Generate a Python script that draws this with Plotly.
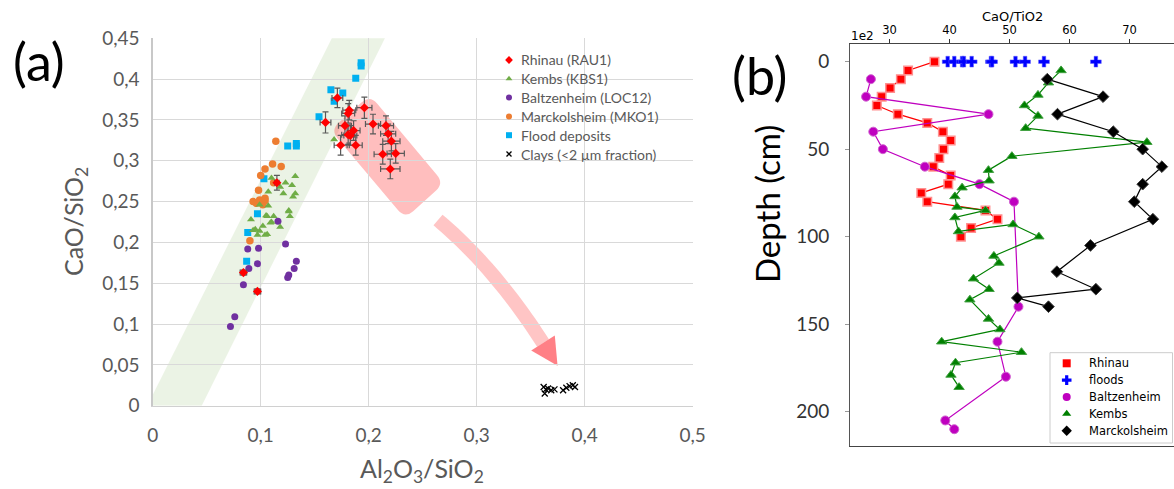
import numpy as np
import plotly.graph_objects as go

W, H = 1174, 489

# ---------------- Panel (a) data : CaO/SiO2 vs Al2O3/SiO2 ----------------
rhinau_x = [0.171, 0.160, 0.182, 0.181, 0.196, 0.178, 0.186, 0.181, 0.183, 0.204, 0.216,
            0.218, 0.221, 0.174, 0.188, 0.213, 0.225, 0.220, 0.115, 0.084, 0.097]
rhinau_y = [0.377, 0.347, 0.362, 0.358, 0.365, 0.343, 0.337, 0.332, 0.331, 0.345, 0.343,
            0.333, 0.324, 0.319, 0.319, 0.308, 0.309, 0.290, 0.273, 0.163, 0.140]
rhinau_ex = [0.005, 0.005, 0.006, 0.006, 0.007, 0.006, 0.006, 0.006, 0.006, 0.007, 0.007,
             0.007, 0.008, 0.006, 0.006, 0.008, 0.008, 0.009, 0.002, 0.003, 0.003]
rhinau_ey = [0.012, 0.013, 0.012, 0.012, 0.013, 0.012, 0.012, 0.012, 0.012, 0.012, 0.012,
             0.012, 0.012, 0.012, 0.012, 0.012, 0.012, 0.012, 0.009, 0.003, 0.003]

kembs_x = [0.132, 0.110, 0.123, 0.118, 0.129, 0.107, 0.121, 0.132, 0.130, 0.099, 0.107, 0.126,
           0.127, 0.106, 0.112, 0.091, 0.110, 0.118, 0.102, 0.095, 0.099, 0.104, 0.097, 0.168,
           0.105, 0.109, 0.093, 0.106, 0.126]
kembs_y = [0.281, 0.279, 0.273, 0.268, 0.270, 0.262, 0.260, 0.260, 0.256, 0.246, 0.245, 0.239,
           0.232, 0.232, 0.232, 0.228, 0.225, 0.219, 0.220, 0.216, 0.214, 0.209, 0.209, 0.326,
           0.233, 0.224, 0.215, 0.210, 0.238]

baltz_x = [0.123, 0.088, 0.098, 0.133, 0.131, 0.097, 0.089, 0.126, 0.125, 0.084, 0.076, 0.072, 0.116]
baltz_y = [0.198, 0.192, 0.193, 0.177, 0.168, 0.174, 0.168, 0.160, 0.157, 0.148, 0.109, 0.097, 0.226]

marck_x = [0.114, 0.111, 0.104, 0.119, 0.100, 0.112, 0.098, 0.093, 0.096, 0.099, 0.104, 0.102, 0.104, 0.090]
marck_y = [0.324, 0.296, 0.290, 0.293, 0.282, 0.273, 0.264, 0.250, 0.248, 0.252, 0.251, 0.246, 0.254, 0.202]

flood_x = [0.193, 0.193, 0.188, 0.165, 0.176, 0.168, 0.154, 0.125, 0.133, 0.133, 0.103, 0.097, 0.088, 0.087]
flood_y = [0.420, 0.416, 0.401, 0.387, 0.383, 0.373, 0.354, 0.318, 0.321, 0.318, 0.278, 0.235, 0.212, 0.177]

clay_x = [0.362, 0.364, 0.363, 0.366, 0.369, 0.372, 0.380, 0.383, 0.386, 0.389, 0.391]
clay_y = [0.023, 0.020, 0.015, 0.021, 0.019, 0.020, 0.019, 0.022, 0.024, 0.025, 0.023]

a_xticks = [0, 0.1, 0.2, 0.3, 0.4, 0.5]
a_xticktext = ["0", "0,1", "0,2", "0,3", "0,4", "0,5"]
a_yticks = [0, 0.05, 0.1, 0.15, 0.2, 0.25, 0.3, 0.35, 0.4, 0.45]
a_yticktext = ["0", "0,05", "0,1", "0,15", "0,2", "0,25", "0,3", "0,35", "0,4", "0,45"]

legend_a_labels = ["Rhinau (RAU1)", "Kembs (KBS1)", "Baltzenheim (LOC12)",
                   "Marckolsheim (MKO1)", "Flood deposits", "Clays (<2 µm fraction)"]

# ---------------- Panel (b) data : CaO/TiO2 vs depth ----------------
rh_depth = [0, 5, 10, 15, 20, 25, 30, 35, 40, 45, 50, 55, 60, 65, 70, 75, 80, 85, 90, 95, 100]
rh_val = [37.5, 33.1, 31.9, 30.1, 28.7, 27.9, 31.4, 36.3, 38.9, 40.2, 39.0, 38.3, 37.3, 40.2,
          39.8, 35.3, 36.3, 46.0, 48.0, 43.6, 41.9]

fl_val = [39.7, 40.8, 42.1, 42.4, 43.7, 46.9, 47.1, 51.0, 52.6, 55.75, 64.4]
fl_depth = [0] * len(fl_val)

ba_depth = [10, 20, 30, 40, 50, 60, 70, 80, 140, 160, 180, 205, 210]
ba_val = [26.9, 26.1, 46.5, 27.3, 28.9, 35.9, 45.0, 50.75, 51.5, 48.0, 49.4, 39.3, 40.8]

ke_depth = [5, 12, 19, 25, 31, 38, 46, 54, 62, 68, 72, 77, 83, 85, 89, 97, 93, 100, 111, 115,
            124, 130, 136, 147, 153, 160, 166, 172, 179, 186]
ke_val = [58.6, 56.5, 54.75, 52.5, 54.75, 52.7, 72.9, 50.4, 46.5, 46.6, 42.1, 40.9, 41.25, 46.0,
          40.9, 41.5, 50.6, 54.9, 47.4, 48.25, 44.0, 46.6, 43.4, 46.5, 48.4, 38.7, 52.0, 41.0,
          40.25, 41.6]

ma_depth = [10, 20, 30, 40, 50, 60, 70, 80, 90, 105, 120, 130, 135, 140]
ma_val = [56.3, 65.6, 58.0, 67.3, 72.2, 75.4, 72.2, 70.8, 73.9, 63.5, 57.9, 64.4, 51.3, 56.5]

b_xticks = [30, 40, 50, 60, 70]
b_yticks = [0, 50, 100, 150, 200]
legend_b_labels = ["Rhinau", "floods", "Baltzenheim", "Kembs", "Marckolsheim"]

# ---------------- geometry helpers ----------------
AX0, AX1 = 152.7, 692.7     # pixel of x=0 and x=0.5 (panel a)
AY0, AY1 = 405.7, 38.3      # pixel of y=0 and y=0.45 (panel a)
BX0, BX1 = 850.0, 1174.0    # panel b horizontal pixel extent
BY0, BY1 = 44.0, 446.0      # panel b vertical pixel extent
B_XR = [23.42, 77.42]
B_YR = [219.6, -10.1]


def to_ax(px, py):
    return ((px - AX0) / (AX1 - AX0) * 0.5, (AY0 - py) / (AY0 - AY1) * 0.45)


def poly_path(points):
    pts = [to_ax(*p) for p in points]
    return "M " + " L ".join(f"{x:.5f},{y:.5f}" for x, y in pts) + " Z"


def rounded_path(corners, r):
    n = len(corners)
    d = ""
    for i in range(n):
        p = np.array(corners[i], float)
        a = np.array(corners[i - 1], float)
        b = np.array(corners[(i + 1) % n], float)
        s = p + r * (a - p) / np.linalg.norm(a - p)
        e = p + r * (b - p) / np.linalg.norm(b - p)
        sx, sy = to_ax(*s)
        cx, cy = to_ax(*p)
        ex, ey = to_ax(*e)
        d += ("M" if i == 0 else " L") + f" {sx:.5f},{sy:.5f} Q {cx:.5f},{cy:.5f} {ex:.5f},{ey:.5f}"
    return d + " Z"


def px(x):
    return x / W


def py(y):
    return 1 - y / H


# green band
band = [(147.2, 405.7), (201.7, 405.7), (394.0, 20.0), (341.0, 20.0)]
# pink rounded box
pink_box = [(370, 95), (444, 183.5), (405, 218.5), (330.5, 130)]
# curved arrow shaft
P0, P1, P2 = np.array([438, 220.0]), np.array([495, 268.0]), np.array([543, 343.0])
left, right = [], []
for t in np.linspace(0, 1, 30):
    p = (1 - t) ** 2 * P0 + 2 * (1 - t) * t * P1 + t ** 2 * P2
    dv = 2 * (1 - t) * (P1 - P0) + 2 * t * (P2 - P1)
    dv = dv / np.linalg.norm(dv)
    nv = np.array([-dv[1], dv[0]])
    left.append(tuple(p + 7 * nv))
    right.append(tuple(p - 7 * nv))
shaft = left + right[::-1]
de = (P2 - P1) / np.linalg.norm(P2 - P1)
ne = np.array([-de[1], de[0]])
head = [tuple(P2 + 14 * ne), tuple(P2 - 14 * ne), tuple(P2 + 27 * de)]

fig = go.Figure()

# ---------------- panel (a) traces ----------------
fig.add_trace(go.Scatter(x=flood_x, y=flood_y, mode="markers", xaxis="x", yaxis="y",
                         marker=dict(symbol="square", size=7, color="#00B0F0")))
fig.add_trace(go.Scatter(x=marck_x, y=marck_y, mode="markers", xaxis="x", yaxis="y",
                         marker=dict(symbol="circle", size=7.5, color="#ED7D31")))
fig.add_trace(go.Scatter(x=baltz_x, y=baltz_y, mode="markers", xaxis="x", yaxis="y",
                         marker=dict(symbol="circle", size=7, color="#7030A0")))
fig.add_trace(go.Scatter(x=kembs_x, y=kembs_y, mode="markers", xaxis="x", yaxis="y",
                         marker=dict(symbol="triangle-up", size=7, color="#70AD47")))
fig.add_trace(go.Scatter(x=clay_x, y=clay_y, mode="markers", xaxis="x", yaxis="y",
                         marker=dict(symbol="x-thin", size=6, color="black",
                                     line=dict(color="black", width=1.3))))
fig.add_trace(go.Scatter(x=rhinau_x, y=rhinau_y, mode="markers", xaxis="x", yaxis="y",
                         marker=dict(symbol="diamond", size=7, color="#FF0000"),
                         error_x=dict(type="data", array=rhinau_ex, color="#595959", thickness=1.2, width=3),
                         error_y=dict(type="data", array=rhinau_ey, color="#595959", thickness=1.2, width=3)))

# ---------------- panel (b) traces ----------------
fig.add_trace(go.Scatter(x=rh_val, y=rh_depth, mode="lines+markers", xaxis="x2", yaxis="y2",
                         line=dict(color="#FF0000", width=1.2),
                         marker=dict(symbol="square", size=8.5, color="#FF0000",
                                     line=dict(color="#FF9090", width=1.5))))
fig.add_trace(go.Scatter(x=fl_val, y=fl_depth, mode="markers", xaxis="x2", yaxis="y2",
                         marker=dict(symbol="cross", size=9, color="#0000FF",
                                     line=dict(color="#6060FF", width=0.5))))
fig.add_trace(go.Scatter(x=ba_val, y=ba_depth, mode="lines+markers", xaxis="x2", yaxis="y2",
                         line=dict(color="#BF00BF", width=1.2),
                         marker=dict(symbol="circle", size=9, color="#BF00BF",
                                     line=dict(color="#D060D0", width=1))))
fig.add_trace(go.Scatter(x=ke_val, y=ke_depth, mode="lines+markers", xaxis="x2", yaxis="y2",
                         line=dict(color="#008000", width=1.2),
                         marker=dict(symbol="triangle-up", size=9, color="#008000",
                                     line=dict(color="#40A040", width=1))))
fig.add_trace(go.Scatter(x=ma_val, y=ma_depth, mode="lines+markers", xaxis="x2", yaxis="y2",
                         line=dict(color="#000000", width=1.2),
                         marker=dict(symbol="diamond", size=9, color="#000000",
                                     line=dict(color="#404040", width=1))))

# ---------------- manual legends (pixel overlay axis) ----------------
leg_a_sym = ["diamond", "triangle-up", "circle", "circle", "square", "x-thin"]
leg_a_col = ["#FF0000", "#70AD47", "#7030A0", "#ED7D31", "#00B0F0", "#000000"]
leg_a_y = [60 + 18.8 * i for i in range(len(legend_a_labels))]
for s, c, yy in zip(leg_a_sym, leg_a_col, leg_a_y):
    fig.add_trace(go.Scatter(x=[509], y=[yy], mode="markers", xaxis="x3", yaxis="y3",
                             marker=dict(symbol=s, size=6 if s != "x-thin" else 5, color=c,
                                         line=dict(color=c, width=1.3 if s == "x-thin" else 0))))
leg_b_sym = ["square", "cross", "circle", "triangle-up", "diamond"]
leg_b_col = ["#FF0000", "#0000FF", "#BF00BF", "#008000", "#000000"]
leg_b_y = [363.3 + 16.85 * i for i in range(len(legend_b_labels))]
for s, c, yy in zip(leg_b_sym, leg_b_col, leg_b_y):
    fig.add_trace(go.Scatter(x=[1066.7], y=[yy], mode="markers", xaxis="x3", yaxis="y3",
                             marker=dict(symbol=s, size=8, color=c)))

annotations = []
for lab, yy in zip(legend_a_labels, leg_a_y):
    annotations.append(dict(text=lab, x=px(519), y=py(yy), xref="paper", yref="paper",
                            xanchor="left", yanchor="middle", showarrow=False,
                            font=dict(family="Lato", size=14, color="#595959")))
for lab, yy in zip(legend_b_labels, leg_b_y):
    annotations.append(dict(text=lab, x=px(1087), y=py(yy), xref="paper", yref="paper",
                            xanchor="left", yanchor="middle", showarrow=False,
                            font=dict(family="DejaVu Sans", size=11.5, color="#000000")))

annotations += [
    dict(text="(a)", x=px(39), y=py(61), xref="paper", yref="paper", showarrow=False,
         xanchor="center", yanchor="middle", font=dict(family="Lato", size=52, color="black")),
    dict(text="(b)", x=px(759), y=py(75), xref="paper", yref="paper", showarrow=False,
         xanchor="center", yanchor="middle", font=dict(family="Lato", size=52, color="black")),
    dict(text="CaO/SiO<sub>2</sub>", x=px(75), y=py(222), xref="paper", yref="paper",
         showarrow=False, textangle=-90, xanchor="center", yanchor="middle",
         font=dict(family="Lato", size=25, color="#595959")),
    dict(text="Al<sub>2</sub>O<sub>3</sub>/SiO<sub>2</sub>", x=px(422), y=py(470), xref="paper",
         yref="paper", showarrow=False, xanchor="center", yanchor="middle",
         font=dict(family="Lato", size=25, color="#595959")),
    dict(text="Depth (cm)", x=px(767), y=py(204), xref="paper", yref="paper", showarrow=False,
         textangle=-90, xanchor="center", yanchor="middle",
         font=dict(family="Lato", size=33, color="black")),
    dict(text="CaO/TiO2", x=px(1013), y=py(17), xref="paper", yref="paper", showarrow=False,
         xanchor="center", yanchor="middle", font=dict(family="DejaVu Sans", size=13, color="black")),
    dict(text="1e2", x=px(862), y=py(36), xref="paper", yref="paper", showarrow=False,
         xanchor="center", yanchor="middle", font=dict(family="DejaVu Sans", size=12, color="black")),
]

shapes = [
    dict(type="path", path=poly_path(band), xref="x", yref="y", layer="below",
         fillcolor="rgba(112,173,71,0.14)", line=dict(width=0)),
    dict(type="path", path=rounded_path(pink_box, 11), xref="x", yref="y", layer="below",
         fillcolor="rgba(255,40,40,0.30)", line=dict(width=0)),
    dict(type="path", path=poly_path(shaft), xref="x", yref="y", layer="below",
         fillcolor="rgba(255,40,40,0.27)", line=dict(width=0)),
    dict(type="path", path=poly_path(head), xref="x", yref="y", layer="below",
         fillcolor="rgba(255,50,60,0.62)", line=dict(width=0)),
    # legend box of panel (b)
    dict(type="rect", xref="paper", yref="paper", x0=px(1050), x1=px(1172.5), y0=py(443),
         y1=py(352.7), layer="below", fillcolor="white", line=dict(color="#CCCCCC", width=1)),
]

fig.update_layout(
    template="none",
    width=W, height=H, autosize=False,
    margin=dict(l=0, r=0, t=0, b=0, pad=0),
    paper_bgcolor="white", plot_bgcolor="rgba(0,0,0,0)",
    showlegend=False,
    annotations=annotations, shapes=shapes,
    xaxis=dict(domain=[AX0 / W, AX1 / W], range=[0, 0.5], anchor="y", automargin=False,
               tickvals=a_xticks, ticktext=a_xticktext, ticks="", showgrid=True,
               gridcolor="#D9D9D9", gridwidth=1, zeroline=False, showline=True,
               linecolor="#D0D0D0", linewidth=1.3, ticklabelstandoff=12,
               tickfont=dict(family="Lato", size=19, color="#595959")),
    yaxis=dict(domain=[1 - AY0 / H, 1 - AY1 / H], range=[0, 0.45], anchor="x", automargin=False,
               tickvals=a_yticks, ticktext=a_yticktext, ticks="", showgrid=True,
               gridcolor="#D9D9D9", gridwidth=1, zeroline=False, showline=True,
               linecolor="#C8C8C8", linewidth=1.3, ticklabelstandoff=8,
               tickfont=dict(family="Lato", size=19, color="#595959")),
    xaxis2=dict(domain=[BX0 / W, BX1 / W], range=B_XR, anchor="y2", side="top", automargin=False,
                tickvals=b_xticks, ticks="outside", ticklen=4, tickcolor="#333333",
                showgrid=False, zeroline=False, showline=True, linecolor="#444444",
                linewidth=1, mirror=True,
                tickfont=dict(family="DejaVu Sans", size=11.5, color="black")),
    yaxis2=dict(domain=[1 - BY1 / H, 1 - BY0 / H], range=B_YR, anchor="x2", automargin=False,
                tickvals=b_yticks, ticks="outside", ticklen=4, tickcolor="#999999",
                showgrid=False, zeroline=False, showline=True, linecolor="#555555",
                linewidth=1, mirror=True, ticklabelstandoff=12,
                tickfont=dict(family="Lato", size=19, color="#333333")),
    xaxis3=dict(domain=[0, 1], range=[0, W], anchor="y3", visible=False, fixedrange=True,
                automargin=False),
    yaxis3=dict(domain=[0, 1], range=[H, 0], anchor="x3", visible=False, fixedrange=True,
                automargin=False),
)

fig.write_html("out.html", config={"displayModeBar": False, "staticPlot": True},
               post_script="document.body.style.margin='0';document.body.style.overflow='hidden';")
